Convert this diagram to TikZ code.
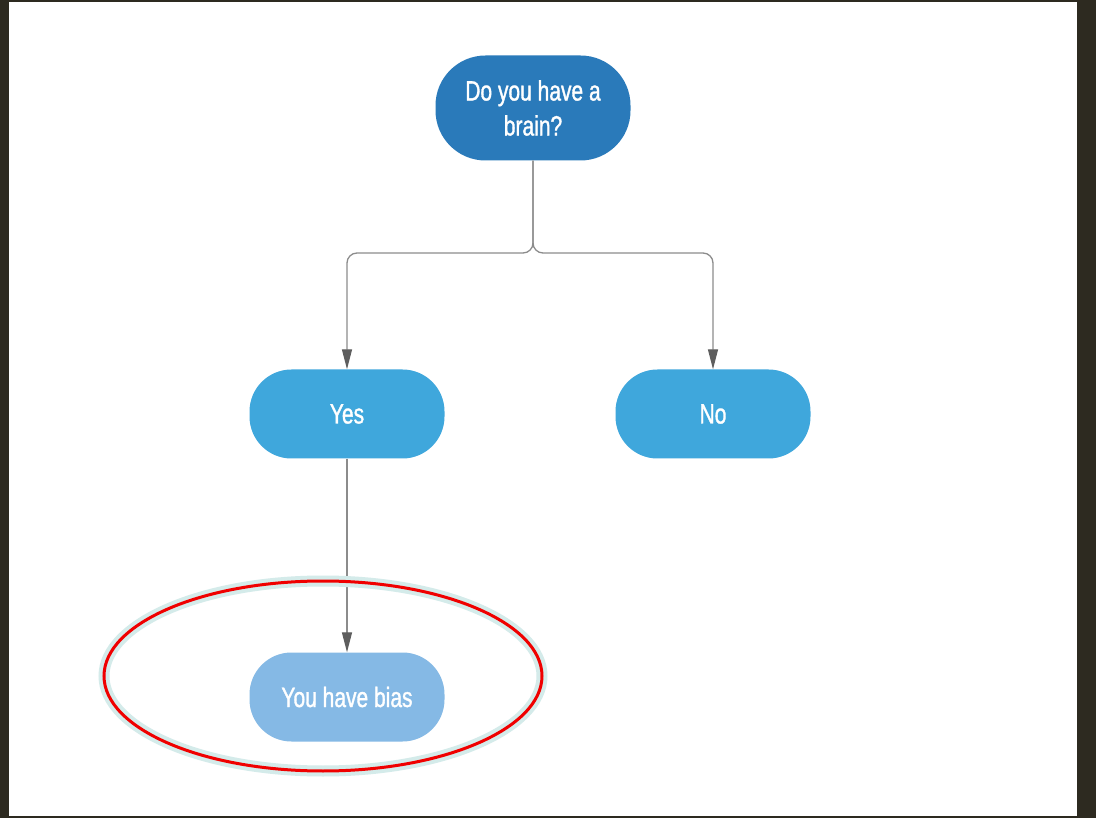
\documentclass[tikz,border=0pt]{standalone}
\usepackage{fontspec}
\newfontfamily\boxfont{Liberation Sans}[FakeStretch=0.75, FakeBold=1.2]
\usepackage{xcolor}
\usepackage{tikz}
\usetikzlibrary{arrows.meta, positioning}

\definecolor{frame}{HTML}{2D2A20}
\definecolor{darkblue}{HTML}{2A7ABA}
\definecolor{midblue}{HTML}{3FA7DC}
\definecolor{lightblue}{HTML}{85B9E5}
\definecolor{linkgray}{HTML}{8C8C8C}
\definecolor{tipgray}{HTML}{5E5E5E}
\definecolor{glow}{HTML}{D4EBEA}
\definecolor{ringred}{HTML}{F00000}

\tikzset{
    pill/.style={draw=none, text=white, minimum width=195pt, minimum height=89pt,
        rounded corners=42pt, align=center, font=\boxfont\fontsize{28}{35}\selectfont},
    link/.style={draw=linkgray, line width=1.3pt,
        -{Triangle[length=20pt, width=10pt, fill=tipgray, color=tipgray]}}
}

\begin{document}
\begin{tikzpicture}[x=1pt, y=-1pt]
    % 1. Khung nền
    \fill[frame] (0,0) rectangle (1096,818);
    \fill[white] (9,2) rectangle (1077,816);
    \useasboundingbox (0,0) rectangle (1096,818);

    % 2. Các nút
    \node[pill, fill=darkblue, minimum height=105pt, rounded corners=50pt] (brain) at (533,108) {Do you have a\\brain?};
    \node[pill, fill=midblue] (yes) at (347,414) {Yes};
    \node[pill, fill=midblue] (no) at (713,414) {No};
    \node[pill, fill=lightblue] (bias) at (347,697) {You have bias};

    % 3. Đường nối
    \coordinate (split) at (533,253);
    \draw[link, rounded corners=10pt] (brain.south) -- (split) -| (yes.north);
    \draw[link, rounded corners=10pt] (brain.south) -- (split) -| (no.north);
    \draw[link] (yes.south) -- (bias.north);

    % 4. Vòng đỏ
    \draw[glow, line width=11pt] (323,676) ellipse [x radius=219, y radius=95];
    \draw[ringred, line width=3pt] (323,676) ellipse [x radius=219, y radius=95];
\end{tikzpicture}
\end{document}
